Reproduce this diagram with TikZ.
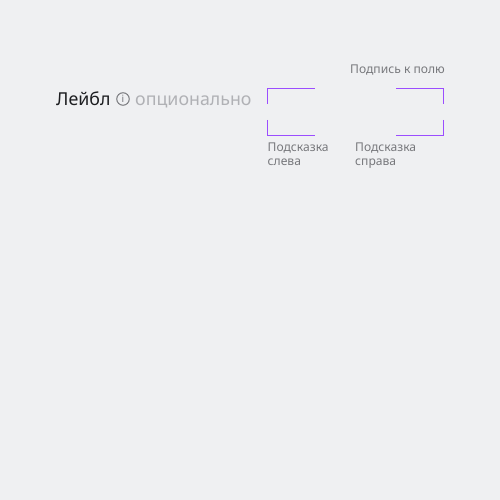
\documentclass[tikz,border=0pt]{standalone}
\usepackage{fontspec}
\setmainfont{Noto Sans}
\definecolor{pagebg}{HTML}{EFF0F2}
\definecolor{cornerviolet}{HTML}{9B4DFF}
\definecolor{hintgray}{HTML}{77787C}
\definecolor{optgray}{HTML}{B0B1B5}
\definecolor{labelblack}{HTML}{1C1D20}
\newcommand*{\xleft}{267.5}
\newcommand*{\xright}{443.5}
\newcommand*{\ytop}{411.5}
\newcommand*{\ybot}{364.5}
\newcommand*{\cornerw}{47.5}
\newcommand*{\cornerh}{15.5}

\begin{document}
\begin{tikzpicture}
[
	x=1pt,y=1pt,
	corner/.style={cornerviolet,line width=0.9pt},
	mainlabel/.style={anchor=base west,inner sep=0pt,font=\fontsize{17.8}{20}\selectfont},
	hint/.style={anchor=base west,inner sep=0pt,text=hintgray,font=\fontsize{12.1}{14}\selectfont}
]

	% background
	\fill[pagebg] (0,0) rectangle (500,500);
	\useasboundingbox (0,0) rectangle (500,500);

	% label row
	\node[mainlabel,text=labelblack] (label) at (56,394.5) {Лейбл};
	\node[circle,draw=hintgray,line width=1pt,inner sep=0pt,minimum size=12.5pt] (info) at (123,401) {};
	\node[inner sep=0pt,text=hintgray,font=\fontsize{10}{10}\selectfont] (infoi) at (info.center) {i};
	\node[mainlabel,text=optgray] (optional) at (135,394.5) {опционально};

	% field corners
	\draw[corner] (\xleft,\ytop-\cornerh) -- (\xleft,\ytop) -- (\xleft+\cornerw,\ytop);
	\draw[corner] (\xleft,\ybot+\cornerh) -- (\xleft,\ybot) -- (\xleft+\cornerw,\ybot);
	\draw[corner] (\xright,\ytop-\cornerh) -- (\xright,\ytop) -- (\xright-\cornerw,\ytop);
	\draw[corner] (\xright,\ybot+\cornerh) -- (\xright,\ybot) -- (\xright-\cornerw,\ybot);

	% captions
	\node[hint] (caption) at (350,426.5) {Подпись к полю};
	\node[hint] (hintleftA) at (267.5,348) {Подсказка};
	\node[hint] (hintleftB) at (267.5,334) {слева};
	\node[hint] (hintrightA) at (355,348) {Подсказка};
	\node[hint] (hintrightB) at (355,334) {справа};

\end{tikzpicture}
\end{document}
